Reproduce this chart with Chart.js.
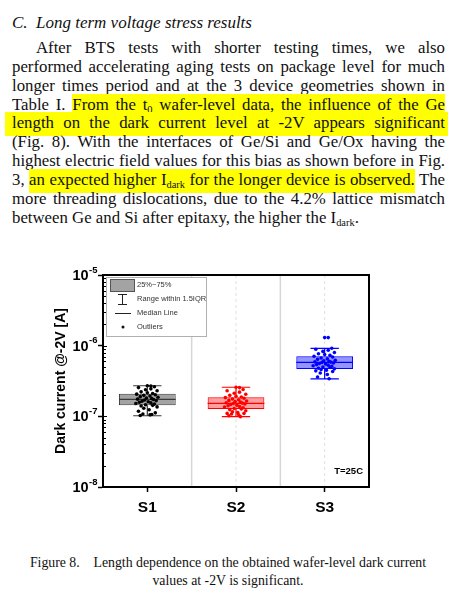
<!DOCTYPE html>
<html><head><meta charset="utf-8">
<script src="https://cdn.jsdelivr.net/npm/chart.js@4.4.1/dist/chart.umd.min.js"></script>
<style>
html,body{margin:0;padding:0;background:#fff;}
body{width:475px;height:600px;position:relative;overflow:hidden;font-family:"Liberation Serif","Times New Roman",serif;color:#111;}
.ln{position:absolute;left:12px;width:433px;font-size:16.8px;line-height:19px;height:19px;text-align:justify;text-align-last:justify;}
.last{text-align:left;text-align-last:left;}
.hl{background:#ffff00;padding:1px 0 4px;}
sub{font-size:0.62em;vertical-align:-0.28em;line-height:0;}
.head{position:absolute;top:13px;font-size:17px;line-height:19px;font-style:italic;}
.cap{position:absolute;left:0;width:456px;text-align:center;font-size:13.8px;line-height:18px;}
#wrap{position:absolute;left:35px;top:245px;width:385px;height:285px;}
</style></head>
<body>
<div class="head" style="left:12px">C.</div>
<div class="head" style="left:36px">Long term voltage stress results</div>
<div class="ln" style="top:38px;left:36px;width:409px">After BTS tests with shorter testing times, we also</div>
<div class="ln" style="top:57px">performed accelerating aging tests on package level for much</div>
<div class="ln" style="top:76px">longer times period and at the 3 device geometries shown in</div>
<div class="ln" style="top:95px">Table I. <span class="hl">From the t<sub>0</sub> wafer-level data, the influence of the Ge</span></div>
<div class="ln" style="top:113px"><span class="hl" style="padding-left:7px;margin-left:-7px;padding-right:3px;margin-right:-3px">length on the dark current level at -2V appears significant</span></div>
<div class="ln" style="top:132px">(Fig. 8). With the interfaces of Ge/Si and Ge/Ox having the</div>
<div class="ln" style="top:151px">highest electric field values for this bias as shown before in Fig.</div>
<div class="ln" style="top:170px">3, <span class="hl">an expected higher I<sub>dark</sub> for the longer device is observed.</span> The</div>
<div class="ln" style="top:189px">more threading dislocations, due to the 4.2% lattice mismatch</div>
<div class="ln last" style="top:208px">between Ge and Si after epitaxy, the higher the I<sub>dark</sub>.</div>

<div id="wrap"><canvas id="c"></canvas></div>

<div class="cap" style="top:554px">Figure 8.&nbsp;&nbsp;&nbsp; Length dependence on the obtained wafer-level dark current</div>
<div class="cap" style="top:572px">values at -2V is significant.</div>

<script>
// ---- data ----
const categories = ['S1', 'S2', 'S3'];
const q1 = [1.43e-7, 1.27e-7, 4.68e-7];
const q3 = [2.09e-7, 1.86e-7, 7.08e-7];
const medians = [1.74e-7, 1.53e-7, 5.82e-7];
const whiskerLow = [1.02e-7, 0.99e-7, 3.38e-7];
const whiskerHigh = [2.71e-7, 2.58e-7, 9.18e-7];
const s1Values = [2.71e-7,2.68e-7,2.62e-7,2.55e-7,2.45e-7,2.38e-7,2.30e-7,2.22e-7,2.15e-7,2.10e-7,2.06e-7,2.02e-7,1.98e-7,1.94e-7,1.90e-7,1.86e-7,1.82e-7,1.78e-7,1.75e-7,1.73e-7,1.70e-7,1.67e-7,1.64e-7,1.61e-7,1.58e-7,1.55e-7,1.52e-7,1.49e-7,1.46e-7,1.43e-7,1.40e-7,1.36e-7,1.30e-7,1.24e-7,1.18e-7,1.12e-7,1.08e-7,1.05e-7,1.03e-7,1.06e-7];
const s2Values = [2.58e-7,2.55e-7,2.40e-7,2.30e-7,2.20e-7,2.12e-7,2.05e-7,1.98e-7,1.92e-7,1.88e-7,1.84e-7,1.80e-7,1.76e-7,1.72e-7,1.68e-7,1.65e-7,1.62e-7,1.59e-7,1.56e-7,1.54e-7,1.52e-7,1.50e-7,1.47e-7,1.44e-7,1.41e-7,1.38e-7,1.35e-7,1.32e-7,1.29e-7,1.27e-7,1.24e-7,1.20e-7,1.16e-7,1.13e-7,1.10e-7,1.10e-7,1.08e-7,1.05e-7,1.02e-7,0.99e-7];
const s3Values = [1.30e-6,1.30e-6,9.18e-7,8.9e-7,8.6e-7,8.3e-7,8.0e-7,7.7e-7,7.5e-7,7.3e-7,7.1e-7,6.9e-7,6.7e-7,6.5e-7,6.4e-7,6.2e-7,6.1e-7,6.0e-7,5.9e-7,5.85e-7,5.8e-7,5.7e-7,5.6e-7,5.5e-7,5.4e-7,5.3e-7,5.2e-7,5.1e-7,5.0e-7,4.9e-7,4.8e-7,4.7e-7,4.6e-7,4.5e-7,4.4e-7,4.3e-7,4.1e-7,3.9e-7,3.6e-7,3.4e-7];
const jitter = [0.00,0.04,0.08,-0.10,0.04,-0.02,0.11,-0.07,0.00,0.06,-0.12,0.09,-0.04,0.03,-0.08,0.12,-0.01,0.05,-0.11,0.07,-0.03,0.10,-0.06,0.01,-0.09,0.04,-0.13,0.08,-0.02,0.06,-0.07,0.11,-0.04,0.02,-0.10,0.09,-0.05,0.03,-0.08,0.05];
const yTickValues = [1e-8, 1e-7, 1e-6, 1e-5];
const yTitle = 'Dark current @-2V [A]';
const tempLabel = 'T=25C';
const legendLabels = ['25%~75%', 'Range within 1.5IQR', 'Median Line', 'Outliers'];

// ---- styles ----
const boxFill = ['#a3a3a3', 'rgba(255,0,0,0.38)', 'rgba(0,0,255,0.42)'];
const boxStroke = ['#3a3a3a', '#ff0000', '#0000ff'];
const pointColor = ['#000000', '#ff0000', '#0000ff'];
const seriesValues = [s1Values, s2Values, s3Values];

const pointSets = seriesValues.map((vals, si) => ({
  type: 'scatter',
  label: categories[si],
  data: vals.map((v, i) => ({ x: si + 1 + jitter[i], y: v })),
  pointRadius: 1.8,
  pointBackgroundColor: pointColor[si],
  pointBorderWidth: 0,
  order: 1
}));

const extras = {
  id: 'extras',
  beforeDatasetsDraw(chart) {
    const { ctx, chartArea: a, scales: { x } } = chart;
    ctx.save();
    ctx.strokeStyle = '#d6d6d6'; ctx.lineWidth = 1.5;
    [1.5, 2.5].forEach(v => { const px = x.getPixelForValue(v); ctx.beginPath(); ctx.moveTo(px, a.top); ctx.lineTo(px, a.bottom); ctx.stroke(); });
    ctx.setLineDash([3, 3]); ctx.strokeStyle = '#e0e0e0'; ctx.lineWidth = 1;
    [2, 3].forEach(v => { const px = x.getPixelForValue(v); ctx.beginPath(); ctx.moveTo(px, a.top); ctx.lineTo(px, a.bottom); ctx.stroke(); });
    ctx.restore();
  },
  afterDatasetDraw(chart, args) {
    if (args.index !== 0) return;
    const { ctx, scales: { x, y } } = chart;
    const meta = chart.getDatasetMeta(0);
    ctx.save();
    categories.forEach((c, i) => {
      const bar = meta.data[i].getProps(['x', 'width'], true);
      const cx = x.getPixelForValue(i + 1);
      const capL = x.getPixelForValue(i + 1 - 0.16), capR = x.getPixelForValue(i + 1 + 0.16);
      ctx.strokeStyle = boxStroke[i]; ctx.lineWidth = 1.2;
      const yHi = y.getPixelForValue(whiskerHigh[i]), yLo = y.getPixelForValue(whiskerLow[i]);
      const yQ3 = y.getPixelForValue(q3[i]), yQ1 = y.getPixelForValue(q1[i]);
      ctx.beginPath();
      ctx.moveTo(cx, yQ3); ctx.lineTo(cx, yHi);
      ctx.moveTo(cx, yQ1); ctx.lineTo(cx, yLo);
      ctx.moveTo(capL, yHi); ctx.lineTo(capR, yHi);
      ctx.moveTo(capL, yLo); ctx.lineTo(capR, yLo);
      const ym = y.getPixelForValue(medians[i]);
      ctx.moveTo(bar.x - bar.width / 2, ym); ctx.lineTo(bar.x + bar.width / 2, ym);
      ctx.stroke();
    });
    ctx.restore();
  },
  afterDraw(chart) {
    const { ctx, chartArea: a, scales: { y } } = chart;
    ctx.save();
    // frame
    ctx.strokeStyle = '#000'; ctx.lineWidth = 2;
    ctx.strokeRect(a.left, a.top, a.right - a.left, a.bottom - a.top);
    // minor / inner ticks
    ctx.lineWidth = 1;
    for (let d = -8; d < -5; d++) {
      for (let m = 1; m <= 9; m++) {
        const py = Math.round(y.getPixelForValue(m * Math.pow(10, d))) + 0.5;
        ctx.beginPath(); ctx.moveTo(a.left, py); ctx.lineTo(a.left + (m === 1 ? 4 : 3), py); ctx.stroke();
      }
    }
    // y tick labels
    ctx.fillStyle = '#000'; ctx.textBaseline = 'middle'; ctx.textAlign = 'left';
    yTickValues.forEach(v => {
      const py = y.getPixelForValue(v);
      const e = String(Math.round(Math.log10(v)));
      ctx.font = 'bold 14.5px "Liberation Sans", Arial, sans-serif';
      const w1 = ctx.measureText('10').width;
      ctx.font = 'bold 9.5px "Liberation Sans", Arial, sans-serif';
      const w2 = ctx.measureText(e).width;
      const x0 = a.left - 6 - w1 - w2;
      ctx.font = 'bold 14.5px "Liberation Sans", Arial, sans-serif';
      ctx.fillText('10', x0, py + 1);
      ctx.font = 'bold 9.5px "Liberation Sans", Arial, sans-serif';
      ctx.fillText(e, x0 + w1 + 0.5, py - 5);
    });
    // T label
    ctx.font = 'bold 9.5px "Liberation Sans", Arial, sans-serif';
    ctx.textAlign = 'right'; ctx.textBaseline = 'alphabetic';
    ctx.fillText(tempLabel, a.right - 6, a.bottom - 13);
    // legend
    const lx = a.left + 3, ly = a.top + 2;
    ctx.fillStyle = '#fff'; ctx.strokeStyle = '#b0b0b0'; ctx.lineWidth = 1;
    ctx.fillRect(lx, ly, 100, 59); ctx.strokeRect(lx + 0.5, ly + 0.5, 100, 59);
    ctx.fillStyle = '#a3a3a3'; ctx.fillRect(lx + 4, ly + 2, 24, 12);
    ctx.strokeStyle = '#555'; ctx.strokeRect(lx + 4.5, ly + 2.5, 24, 12);
    ctx.strokeStyle = '#222'; ctx.lineWidth = 1;
    ctx.beginPath();
    ctx.moveTo(lx + 16.5, ly + 17); ctx.lineTo(lx + 16.5, ly + 28);
    ctx.moveTo(lx + 12, ly + 17.5); ctx.lineTo(lx + 21, ly + 17.5);
    ctx.moveTo(lx + 12, ly + 27.5); ctx.lineTo(lx + 21, ly + 27.5);
    ctx.moveTo(lx + 9, ly + 36.5); ctx.lineTo(lx + 25, ly + 36.5);
    ctx.stroke();
    ctx.fillStyle = '#111';
    ctx.beginPath(); ctx.arc(lx + 17, ly + 50, 1.5, 0, Math.PI * 2); ctx.fill();
    ctx.font = '7.5px "Liberation Sans", Arial, sans-serif';
    ctx.textAlign = 'left'; ctx.textBaseline = 'middle'; ctx.fillStyle = '#333';
    [8, 22, 36, 50].forEach((dy, k) => ctx.fillText(legendLabels[k], lx + 31, ly + dy));
    ctx.restore();
  }
};

new Chart(document.getElementById('c'), {
  type: 'bar',
  data: {
    datasets: [{
      type: 'bar',
      label: 'box',
      data: categories.map((c, i) => ({ x: i + 1, y: [q1[i], q3[i]] })),
      backgroundColor: boxFill,
      borderColor: boxStroke,
      borderWidth: 1,
      borderSkipped: false,
      barPercentage: 0.64,
      categoryPercentage: 1,
      order: 2
    }, ...pointSets]
  },
  options: {
    responsive: true,
    maintainAspectRatio: false,
    animation: false,
    layout: { padding: { top: 30, right: 51, left: 0, bottom: 0 } },
    plugins: { legend: { display: false }, tooltip: { enabled: false } },
    scales: {
      x: {
        type: 'linear', min: 0.5, max: 3.5, offset: false,
        afterBuildTicks: s => { s.ticks = categories.map((c, i) => ({ value: i + 1 })); },
        afterFit: s => { s.height = 43; },
        ticks: {
          callback: v => categories[Math.round(v) - 1],
          font: { family: '"Liberation Sans", Arial, sans-serif', size: 15.5, weight: 'bold' },
          color: '#000', padding: 6, maxRotation: 0, autoSkip: false
        },
        grid: { offset: false, drawOnChartArea: false, drawTicks: true, tickLength: 5, tickColor: '#000', tickWidth: 1.5 },
        border: { display: true, color: '#000', width: 2 }
      },
      y: {
        type: 'logarithmic', min: 1e-8, max: 1e-5, beginAtZero: false,
        afterBuildTicks: s => { s.ticks = yTickValues.map(v => ({ value: v, major: true })); },
        afterFit: s => { s.width = 68; },
        ticks: { display: false },
        grid: { drawOnChartArea: false, drawTicks: true, tickLength: 5, tickColor: '#000', tickWidth: 1.5 },
        border: { display: true, color: '#000', width: 2 },
        title: {
          display: true, text: yTitle, color: '#000',
          font: { family: '"Liberation Sans", Arial, sans-serif', size: 14, weight: 'bold' },
          padding: { top: 18, bottom: 0 }
        }
      }
    }
  },
  plugins: [extras]
});
</script>
</body></html>
